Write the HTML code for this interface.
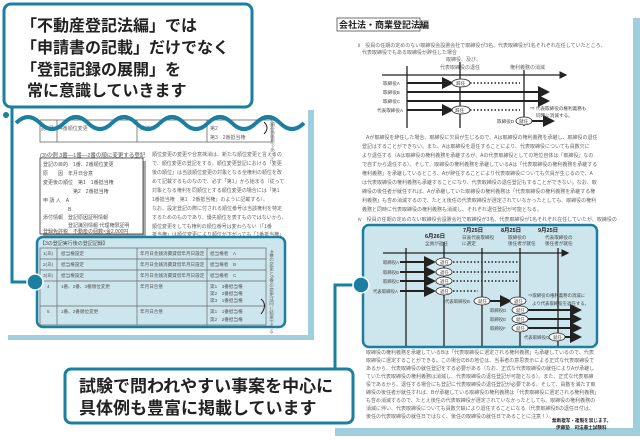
<!DOCTYPE html>
<html><head><meta charset="utf-8"><style>
html,body{margin:0;padding:0;background:#fff;}
svg{display:block;font-family:"Liberation Sans","Noto Sans CJK JP",sans-serif;}
</style></head><body>
<svg width="640" height="441" viewBox="0 0 640 441" xmlns="http://www.w3.org/2000/svg">
<defs>
<marker id="ah" markerWidth="6" markerHeight="6" refX="5" refY="3" orient="auto"><path d="M0,0 L6,3 L0,6z" fill="#222"/></marker>
</defs>
<!-- LEFT PAGE -->
<rect x="8" y="110" width="306" height="230" fill="#9fcfdc"/>
<rect x="8" y="100" width="300" height="235" fill="#fff"/>
<g stroke="#555" stroke-width="0.7" fill="none">
<rect x="40" y="120" width="232" height="22"/>
<line x1="57" y1="120" x2="57" y2="142"/><line x1="137" y1="120" x2="137" y2="142"/><line x1="207" y1="120" x2="207" y2="142"/>
</g>
<g font-size="5" fill="#666">
<text x="41" y="130">記1号</text><text x="60" y="130">4番順位変更</text><text x="140" y="130">抹消</text><text x="210" y="130">第2</text><text x="210" y="139">第3　2番抵当権</text>
</g>
<path d="M264,122 q6,6 0,12" stroke="#222" fill="none" stroke-width="1"/>
<text x="272" y="122" font-size="5" fill="#777" writing-mode="tb">順位変更であって</text>
<path d="M16,123 q12,-12 24,0 t24,0 t24,0 t24,0 t24,0 t24,0 t24,0 t24,0 t24,0 t24,0 t24,0 t24,0" stroke="#1a7fa0" stroke-width="4" fill="none"/>
<text x="40" y="157" font-size="5.5" fill="#555">(3)の例 3番—1番—2番の順に変更する登記</text>
<rect x="43" y="161" width="103" height="76" fill="#aaa"/>
<rect x="40" y="158" width="103" height="76" fill="#fff" stroke="#333" stroke-width="0.8"/>
<g font-size="5" fill="#555">
<text x="43" y="166">登記の目的　1番、2番順位変更</text>
<text x="43" y="175">原　　因　年月日合意</text>
<text x="43" y="184">変更後の順位　第1　1番抵当権</text>
<text x="43" y="193">　　　　　　第2　2番抵当権</text>
<text x="43" y="202">申 請 人　A</text>
<text x="43" y="211">　　　　　B</text>
<text x="43" y="219">添付情報　登記原因証明情報</text>
<text x="43" y="227">　　　　　登記識別情報 代理権限証明</text>
<text x="43" y="233">登録免許税　不動産の個数×金2,000円</text>
</g>
<g font-size="5" fill="#666">
<text x="152" y="156">順位変更の変更や合意抹消は、新たな順位変更と言えるの</text>
<text x="152" y="165">で、順位変更の登記をする。順位変更登記における「変更</text>
<text x="152" y="174">後の順位」は当該順位変更の対象となる全権利の順位を改</text>
<text x="152" y="183">めて記載するものなので、必ず「第1」から始まる（従って</text>
<text x="152" y="192">対象となる権利を同順位とする順位変更の場合には「第1</text>
<text x="152" y="201">1番抵当権　第1　2番抵当権」のように記載する）。</text>
<text x="152" y="210">なお、設定登記の際に付される順位番号は当該権利を特定</text>
<text x="152" y="219">するためのものであり、優先順位を表すものではないから、</text>
<text x="152" y="228">順位変更をしても権利の順位番号は変わらない（「1番</text>
<text x="152" y="236">抵当権」は順位変更により順位が下がっても「1番抵当権」</text>
</g>
<rect x="37" y="237" width="248" height="90" rx="6" fill="#cde6ee" stroke="#1a7fa0" stroke-width="2.5"/>
<text x="40" y="245" font-size="5" fill="#444">【3の登記実行後の登記記録】</text>
<g stroke="#666" stroke-width="0.7" fill="none">
<rect x="40" y="248" width="226" height="77"/>
<line x1="40" y1="259" x2="266" y2="259"/><line x1="40" y1="270" x2="266" y2="270"/><line x1="40" y1="281" x2="266" y2="281"/><line x1="40" y1="306" x2="266" y2="306"/>
<line x1="57" y1="248" x2="57" y2="325"/><line x1="137" y1="248" x2="137" y2="325"/><line x1="207" y1="248" x2="207" y2="325"/>
</g>
<g font-size="4.6" fill="#555">
<text x="43" y="255">1(あ)</text><text x="61" y="255">抵当権設定</text><text x="140" y="255">年月日金銭消費貸借年月日設定</text><text x="210" y="255">抵当権者　A</text>
<text x="43" y="266">2(あ)</text><text x="61" y="266">抵当権設定</text><text x="140" y="266">年月日金銭消費貸借年月日設定</text><text x="210" y="266">抵当権者　B</text>
<text x="43" y="277">3(あ)</text><text x="61" y="277">抵当権設定</text><text x="140" y="277">年月日金銭消費貸借年月日設定</text><text x="210" y="277">抵当権者　C</text>
<text x="47" y="288">4</text><text x="61" y="288">1番、2番、3番順位変更</text><text x="140" y="288">年月日合意</text><text x="210" y="288">第1　3番抵当権</text><text x="210" y="295">第2　2番抵当権</text><text x="210" y="302">第3　1番抵当権</text>
<text x="47" y="313">5</text><text x="61" y="313">1番、2番順位変更</text><text x="140" y="313">年月日合意</text><text x="210" y="313">第1　1番抵当権</text><text x="210" y="321">第2　2番抵当権</text>
</g>
<path d="M261,299 q7,6 0,15" stroke="#222" fill="none" stroke-width="1"/>
<text x="272" y="250" font-size="4.6" fill="#666" writing-mode="tb">4番の変更と5番の変更は同じ結果である</text>
<path d="M12,106 L12,282 L35,282" stroke="#1a7fa0" stroke-width="3" fill="none"/>
<circle cx="6" cy="115" r="3" fill="#1a7fa0"/>
<circle cx="35" cy="282" r="8" fill="#1a7fa0" stroke="#fff" stroke-width="1.5"/>

<!-- RIGHT PAGE -->
<rect x="335" y="18" width="305" height="418" fill="#9fcfdc"/>
<rect x="330" y="0" width="303" height="428" fill="#fff"/>
<rect x="337" y="18" width="83" height="13" fill="#fff" stroke="#333" stroke-width="0.7"/>
<text x="339" y="28" font-size="9" font-weight="bold" fill="#222">会社法・商業登記法編</text>
<g font-size="5" fill="#666">
<text x="358" y="47">ii　役員の任期の定めのない取締役会設置会社で取締役が3名、代表取締役が1名それぞれ在任していたところ、</text>
<text x="362" y="54">代表取締役でもある取締役が辞任した場合</text>
<text x="446" y="61">取締役、及び、</text><text x="440" y="69">代表取締役の退任</text><text x="510" y="69">権利義務の消滅</text>
</g>
<g stroke="#222" stroke-width="1.3" fill="none">
<line x1="382" y1="75" x2="566" y2="75" marker-end="url(#ah)"/>
<line x1="407" y1="66" x2="407" y2="128"/><line x1="460" y1="62" x2="460" y2="128"/><line x1="524" y1="70" x2="524" y2="126"/>
<line x1="407" y1="83" x2="452" y2="83" marker-end="url(#ah)" stroke-width="2"/>
<line x1="470" y1="83" x2="520" y2="83" stroke-dasharray="1.5,2" stroke-width="1.5"/>
<line x1="407" y1="92" x2="548" y2="92" marker-end="url(#ah)" stroke-width="2"/>
<line x1="407" y1="101" x2="548" y2="101" marker-end="url(#ah)" stroke-width="2"/>
<line x1="407" y1="110" x2="452" y2="110" marker-end="url(#ah)" stroke-width="2"/>
<line x1="470" y1="110" x2="520" y2="110" stroke-dasharray="1.5,2" stroke-width="1.5"/>
<line x1="531" y1="121" x2="553" y2="121" marker-end="url(#ah)" stroke-width="2"/>
</g>
<g stroke="#222" stroke-width="0.8" fill="#fff"><ellipse cx="461" cy="83" rx="9" ry="4"/><ellipse cx="461" cy="110" rx="9" ry="4"/><ellipse cx="524" cy="121" rx="8" ry="4"/></g>
<g font-size="4.6" fill="#444">
<text x="456" y="85">辞任</text><text x="455" y="112">辞任</text><text x="519" y="123">就任</text>
<text x="383" y="85">取締役A</text><text x="383" y="94">取締役B</text><text x="383" y="103">取締役C</text><text x="377" y="112">代表取締役A</text><text x="497" y="123">取締役D</text>
<text x="530" y="110">⇒ 代表取締役の権利義務も</text><text x="536" y="117">同時に消滅する。</text>
</g>
<g font-size="5" fill="#666">
<text x="366" y="139">Aが取締役を辞任した場合、取締役に欠員が生じるので、Aは取締役の権利義務を承継し、取締役の退任</text>
<text x="362" y="148">登記はすることができない。また、Aは取締役を退任することにより、代表取締役についても員数欠に</text>
<text x="362" y="157">より退任する（Aは取締役の権利義務を承継するが、Aの代表取締役としての地位自体は「取締役」なの</text>
<text x="362" y="166">で自ずから退任する）。そして、取締役の権利義務を承継しているAは「代表取締役の権利義務を承継する</text>
<text x="362" y="175">権利義務」を承継しているところ、Aが辞任することにより代表取締役についても欠員が生じるので、A</text>
<text x="362" y="184">は代表取締役の権利義務も承継することになり、代表取締役の退任登記もすることができない。なお、取</text>
<text x="362" y="193">締役の後任者が就任すれば、Aが承継していた取締役の権利義務は「代表取締役の権利義務を承継する権</text>
<text x="362" y="202">利義務」も含め消滅するので、たとえ後任の代表取締役が選定されていなかったとしても、取締役の権利</text>
<text x="362" y="211">義務と同時に代表取締役の権利義務も消滅し、それぞれ退任登記が可能となる。</text>
<text x="358" y="221">iv　役員の任期の定めのない取締役会設置会社で取締役が3名、代表取締役が1名それぞれ在任していたが、取締役の</text>
</g>
<rect x="363" y="225" width="234" height="122" rx="6" fill="#cde6ee" stroke="#1a7fa0" stroke-width="2.5"/>
<g font-size="5.5" fill="#222" font-weight="bold">
<text x="425" y="238">6月26日</text><text x="463" y="232">7月25日</text><text x="501" y="232">8月25日</text><text x="538" y="232">9月25日</text>
</g>
<g font-size="4.6" fill="#444">
<text x="425" y="245">全員が退任</text><text x="462" y="239">日表代表取締役</text><text x="462" y="245">に選定</text><text x="508" y="239">取締役の</text><text x="508" y="245">後任者が就任</text><text x="545" y="239">代表取締役の</text><text x="545" y="245">後任者が就任</text>
</g>
<g stroke="#222" stroke-width="1.3" fill="none">
<line x1="383" y1="253" x2="568" y2="253" marker-end="url(#ah)"/>
<line x1="406" y1="248" x2="406" y2="346"/><line x1="444" y1="242" x2="444" y2="346"/><line x1="482" y1="248" x2="482" y2="346"/><line x1="520" y1="248" x2="520" y2="346"/><line x1="558" y1="248" x2="558" y2="346"/>
<g stroke-width="2">
<line x1="400" y1="262" x2="434" y2="262" marker-end="url(#ah)"/><line x1="400" y1="272" x2="434" y2="272" marker-end="url(#ah)"/><line x1="400" y1="281" x2="434" y2="281" marker-end="url(#ah)"/><line x1="400" y1="291" x2="434" y2="291" marker-end="url(#ah)"/>
<line x1="488" y1="301" x2="510" y2="301" marker-end="url(#ah)"/>
<line x1="525" y1="310" x2="580" y2="310" marker-end="url(#ah)"/><line x1="525" y1="319" x2="580" y2="319" marker-end="url(#ah)"/><line x1="525" y1="328" x2="580" y2="328" marker-end="url(#ah)"/><line x1="563" y1="337" x2="580" y2="337" marker-end="url(#ah)"/>
</g>
<g stroke-dasharray="1.5,2" stroke-width="1.5">
<line x1="453" y1="262" x2="518" y2="262"/><line x1="453" y1="272" x2="518" y2="272"/><line x1="453" y1="281" x2="518" y2="281"/><line x1="453" y1="291" x2="478" y2="291"/>
</g>
</g>
<g stroke="#222" stroke-width="0.8" fill="#fff">
<ellipse cx="444" cy="262" rx="8" ry="4"/><ellipse cx="444" cy="272" rx="8" ry="4"/><ellipse cx="444" cy="281" rx="8" ry="4"/><ellipse cx="444" cy="291" rx="8" ry="4"/>
<ellipse cx="482" cy="301" rx="8" ry="4"/><ellipse cx="518" cy="301" rx="8" ry="4"/>
<ellipse cx="520" cy="310" rx="8" ry="4"/><ellipse cx="520" cy="319" rx="8" ry="4"/><ellipse cx="520" cy="328" rx="8" ry="4"/><ellipse cx="557" cy="337" rx="8" ry="4"/>
</g>
<g font-size="4.4" fill="#444">
<text x="440" y="264">退任</text><text x="440" y="274">退任</text><text x="440" y="283">退任</text><text x="440" y="293">退任</text>
<text x="478" y="303">就任</text><text x="514" y="303">退任</text><text x="516" y="312">就任</text><text x="516" y="321">就任</text><text x="516" y="330">就任</text><text x="553" y="339">就任</text>
<text x="383" y="264">取締役A</text><text x="383" y="274">取締役B</text><text x="383" y="283">取締役C</text><text x="373" y="293">代表取締役A</text>
<text x="445" y="303">代表取締役B</text><text x="490" y="312">取締役D</text><text x="490" y="321">取締役E</text><text x="490" y="330">取締役F</text><text x="524" y="339">代表取締役G</text>
<text x="528" y="297">⇒取締役の権利義務の消滅に</text><text x="532" y="305">より代表取締役を退任する。</text>
</g>
<g font-size="5" fill="#666">
<text x="366" y="354">取締役の権利義務を承継しているBは「代表取締役に選定される権利義務」も承継しているので、代表</text>
<text x="366" y="362">取締役に選定することができる。この場合のBの地位は、当事者の意思表示による正式な代表取締役で</text>
<text x="366" y="370">あるから、代表取締役の就任登記をする必要がある（なお、正式な代表取締役の就任によりAが承継し</text>
<text x="366" y="378">ていた代表取締役の権利義務は消滅し、代表取締役の退任登記が可能となる）。また、正式な代表取締</text>
<text x="366" y="386">役であるから、退任する場合にも登記に代表取締役の退任登記が必要である。そして、員数を満たす取</text>
<text x="366" y="394">締役の後任者が就任すれば、Bが承継している取締役の権利義務は「代表取締役に選定される権利義務」</text>
<text x="366" y="402">も含め消滅するので、たとえ後任の代表取締役が選定されていなかったとしても、取締役の権利義務の</text>
<text x="366" y="410">消滅に伴い、代表取締役についても員数欠缺により退任することになる（代表取締役Bの退任日付は、</text>
<text x="366" y="418">後任の代表取締役の就任日ではなく、後任の取締役の就任日であることに注意！）。</text>
</g>
<text x="552" y="422" font-size="4.6" font-weight="bold" fill="#222">無断複写・複製を禁じます。</text>
<text x="556" y="429" font-size="4.6" font-weight="bold" fill="#222">伊藤塾　司法書士試験科</text>
<path d="M360,285 L335,285 L335,372" stroke="#1a7fa0" stroke-width="3" fill="none"/>
<circle cx="361" cy="285" r="8" fill="#1a7fa0" stroke="#fff" stroke-width="1.5"/>

<!-- CALLOUTS -->
<rect x="4" y="4" width="248" height="103" rx="7" fill="#fff" stroke="#1a7fa0" stroke-width="3"/>
<g font-size="16" font-weight="bold" fill="#222">
<text x="21" y="31">「不動産登記法編」では</text>
<text x="21" y="53">「申請書の記載」だけでなく</text>
<text x="21" y="75">「登記記録の展開」を</text>
<text x="27" y="96">常に意識していきます</text>
</g>
<rect x="65" y="369" width="288" height="54" rx="6" fill="#fff" stroke="#1a7fa0" stroke-width="3"/>
<g font-size="17" font-weight="bold" fill="#222">
<text x="79" y="392">試験で問われやすい事案を中心に</text>
<text x="79" y="414">具体例も豊富に掲載しています</text>
</g>
</svg>
</body></html>
